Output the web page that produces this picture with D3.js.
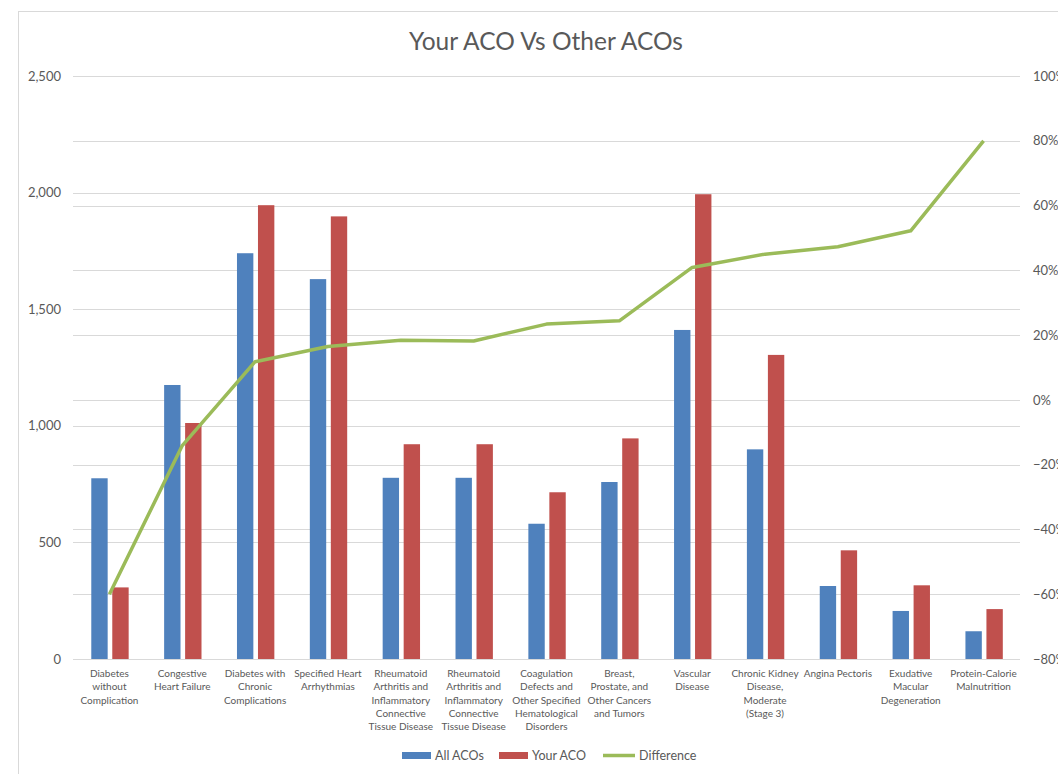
<!DOCTYPE html>
<html>
<head>
<meta charset="utf-8">
<script src="https://cdn.jsdelivr.net/npm/d3@7"></script>
<style>
  html, body { margin: 0; padding: 0; background: #fff; }
  svg { display: block; }
  text { font-family: Lato, "Open Sans", sans-serif; fill: #595959; }
</style>
</head>
<body>
<svg id="chart" width="1058" height="774"></svg>
<script>
// ---- data ----
const categories = [
  "Diabetes without Complication",
  "Congestive Heart Failure",
  "Diabetes with Chronic Complications",
  "Specified Heart Arrhythmias",
  "Rheumatoid Arthritis and Inflammatory Connective Tissue Disease (a)",
  "Rheumatoid Arthritis and Inflammatory Connective Tissue Disease (b)",
  "Coagulation Defects and Other Specified Hematological Disorders",
  "Breast, Prostate, and Other Cancers and Tumors",
  "Vascular Disease",
  "Chronic Kidney Disease, Moderate (Stage 3)",
  "Angina Pectoris",
  "Exudative Macular Degeneration",
  "Protein-Calorie Malnutrition"
];
const categoryLabelLines = [
  ["Diabetes", "without", "Complication"],
  ["Congestive", "Heart Failure"],
  ["Diabetes with", "Chronic", "Complications"],
  ["Specified Heart", "Arrhythmias"],
  ["Rheumatoid", "Arthritis and", "Inflammatory", "Connective", "Tissue Disease"],
  ["Rheumatoid", "Arthritis and", "Inflammatory", "Connective", "Tissue Disease"],
  ["Coagulation", "Defects and", "Other Specified", "Hematological", "Disorders"],
  ["Breast,", "Prostate, and", "Other Cancers", "and Tumors"],
  ["Vascular", "Disease"],
  ["Chronic Kidney", "Disease,", "Moderate", "(Stage 3)"],
  ["Angina Pectoris"],
  ["Exudative", "Macular", "Degeneration"],
  ["Protein-Calorie", "Malnutrition"]
];
const allACOs  = [775, 1175, 1740, 1629, 777, 777, 580, 759, 1411, 899, 313, 206, 119];
const yourACO  = [307, 1012, 1946, 1898, 921, 921, 715, 946, 1993, 1304, 466, 316, 214];
const difference = [-0.60, -0.141, 0.118, 0.165, 0.184, 0.182, 0.234, 0.244, 0.409, 0.45, 0.473, 0.522, 0.80];
const leftTicks  = [0, 500, 1000, 1500, 2000, 2500];
const rightTicks = [-0.8, -0.6, -0.4, -0.2, 0, 0.2, 0.4, 0.6, 0.8, 1.0];
const seriesNames = ["All ACOs", "Your ACO", "Difference"];
const seriesColors = ["#4F81BD", "#C0504D", "#9BBB59"];
const title = "Your ACO Vs Other ACOs";

// ---- layout ----
const svg = d3.select("#chart");
const W = 1058, H = 774;
const plot = { left: 73, right: 1020, top: 76, bottom: 659 };

// chart frame
svg.append("rect").attr("x", 18.5).attr("y", 11.5).attr("width", W + 10).attr("height", H + 10)
  .attr("fill", "#fff").attr("stroke", "#d9d9d9").attr("stroke-width", 1);

const x = d3.scaleBand().domain(categories).range([plot.left, plot.right]).paddingInner(0).paddingOuter(0);
const bw = x.bandwidth();
const xs = d3.scaleBand().domain(seriesNames.slice(0, 2)).range([bw * 0.251, bw * 0.764]).paddingInner(0.22);
const y = d3.scaleLinear().domain([0, 2500]).range([plot.bottom, plot.top]);
const y2 = d3.scaleLinear().domain([-0.8, 1.0]).range([plot.bottom, plot.top]);

// gridlines (left axis and right axis)
const grid = svg.append("g");
grid.selectAll("line.gl").data(leftTicks).join("line")
  .attr("x1", plot.left).attr("x2", plot.right)
  .attr("y1", d => Math.round(y(d)) + 0.5).attr("y2", d => Math.round(y(d)) + 0.5)
  .attr("stroke", "#d9d9d9").attr("stroke-width", 1);
grid.selectAll("line.gr").data(rightTicks).join("line")
  .attr("x1", plot.left).attr("x2", plot.right)
  .attr("y1", d => Math.round(y2(d)) + 0.5).attr("y2", d => Math.round(y2(d)) + 0.5)
  .attr("stroke", "#d9d9d9").attr("stroke-width", 1);

// left axis
const leftAxis = d3.axisLeft(y).tickValues(leftTicks).tickSize(0).tickPadding(12)
  .tickFormat(d3.format(","));
svg.append("g").attr("transform", `translate(${plot.left},0)`).call(leftAxis)
  .call(g => g.select(".domain").remove())
  .call(g => g.selectAll("text").style("font-family", "Lato, sans-serif").style("font-size", "13px").attr("fill", "#595959"));

// right axis
const rightAxis = d3.axisRight(y2).tickValues(rightTicks).tickSize(0).tickPadding(13)
  .tickFormat(d3.format(".0%"));
svg.append("g").attr("transform", `translate(${plot.right},0)`).call(rightAxis)
  .call(g => g.select(".domain").remove())
  .call(g => g.selectAll("text").style("font-family", "Lato, sans-serif").style("font-size", "13px").attr("fill", "#595959"));

// bars
const barData = categories.map((c, i) => [
  { c, s: seriesNames[0], v: allACOs[i], color: seriesColors[0] },
  { c, s: seriesNames[1], v: yourACO[i], color: seriesColors[1] }
]).flat();
svg.append("g").selectAll("rect").data(barData).join("rect")
  .attr("x", d => x(d.c) + xs(d.s))
  .attr("width", xs.bandwidth())
  .attr("y", d => y(d.v))
  .attr("height", d => y(0) - y(d.v))
  .attr("fill", d => d.color);

// baseline
svg.append("line").attr("x1", plot.left).attr("x2", plot.right)
  .attr("y1", Math.round(y(0)) + 0.5).attr("y2", Math.round(y(0)) + 0.5)
  .attr("stroke", "#d9d9d9").attr("stroke-width", 1);

// line
const line = d3.line().x((d, i) => x(categories[i]) + bw / 2).y(d => y2(d));
svg.append("path").datum(difference).attr("d", line)
  .attr("fill", "none").attr("stroke", seriesColors[2]).attr("stroke-width", 3.5)
  .attr("stroke-linejoin", "round");

// category labels
const catG = svg.append("g");
categories.forEach((c, i) => {
  const t = catG.append("text")
    .attr("x", x(c) + bw / 2).attr("y", 677)
    .attr("text-anchor", "middle")
    .style("font-size", "10px");
  categoryLabelLines[i].forEach((ln, j) => {
    t.append("tspan").attr("x", x(c) + bw / 2).attr("y", 677 + j * 13.3).text(ln);
  });
});

// title
svg.append("text").attr("x", 546).attr("y", 50).attr("text-anchor", "middle")
  .style("font-size", "24.5px").text(title);

// legend
const legend = svg.append("g");
const legendItems = [
  { name: seriesNames[0], color: seriesColors[0], type: "rect", x: 402 },
  { name: seriesNames[1], color: seriesColors[1], type: "rect", x: 499 },
  { name: seriesNames[2], color: seriesColors[2], type: "line", x: 603 }
];
legendItems.forEach(it => {
  if (it.type === "rect") {
    legend.append("rect").attr("x", it.x).attr("y", 752).attr("width", 29).attr("height", 7).attr("fill", it.color);
  } else {
    legend.append("line").attr("x1", it.x).attr("x2", it.x + 32).attr("y1", 755.5).attr("y2", 755.5)
      .attr("stroke", it.color).attr("stroke-width", 3.5);
  }
  legend.append("text").attr("x", it.x + (it.type === "rect" ? 33 : 36)).attr("y", 760)
    .style("font-size", "12.5px").text(it.name);
});
</script>
</body>
</html>
